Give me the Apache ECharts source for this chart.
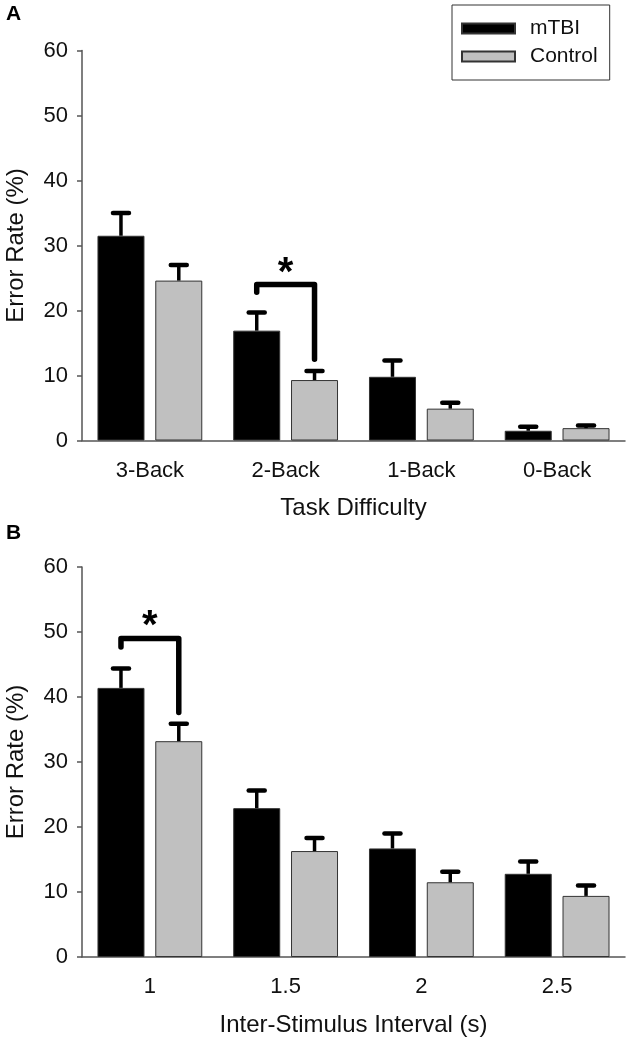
<!DOCTYPE html>
<html>
<head>
<meta charset="utf-8">
<script src="https://cdn.jsdelivr.net/npm/echarts@6/dist/echarts.min.js"></script>
<style>html,body{margin:0;padding:0;background:#fff;}#chart{width:630px;height:1046px;}</style>
</head>
<body>
<div id="chart"></div>
<script>
// ---------- data ----------
const seriesNames = ['mTBI', 'Control'];
const categoriesA = ['3-Back', '2-Back', '1-Back', '0-Back'];
const mtbiA = [31.5, 16.9, 9.8, 1.5];
const controlA = [24.6, 9.3, 4.9, 1.9];
const mtbiErrA = [3.5, 2.8, 2.5, 0.6];
const controlErrA = [2.4, 1.4, 0.9, 0.4];

const categoriesB = ['1', '1.5', '2', '2.5'];
const mtbiB = [41.4, 22.9, 16.7, 12.8];
const controlB = [33.2, 16.3, 11.5, 9.4];
const mtbiErrB = [3.0, 2.7, 2.3, 1.9];
const controlErrB = [2.7, 2.0, 1.6, 1.6];

const yMin = 0, yMax = 60, yStep = 10;
// significance brackets: [category, left end, top, right end, star level, label]
const sigA = ['2-Back', 22.8, 24.0, 12.5, 26.9, '*'];
const sigB = ['1', 47.7, 49.0, 37.6, 52.0, '*'];

const xTitleA = 'Task Difficulty';
const xTitleB = 'Inter-Stimulus Interval (s)';
const yTitle = 'Error Rate (%)';

// ---------- style ----------
const FONT = 'Liberation Sans, Arial, sans-serif';
const BAR_W = 47;
const BAR_GAP = 0.23;
const OFF = (BAR_W + BAR_W * BAR_GAP) / 2;
const AXIS_COLOR = '#555';
const TICK_FS = 22;
const NAME_FS = 24;

const chart = echarts.init(document.getElementById('chart'), null, {renderer: 'canvas'});

function errRender(sign) {
  return function (params, api) {
    const c = api.value(0);
    const top = api.coord([c, api.value(1)]);
    const end = api.coord([c, api.value(1) + api.value(2)]);
    const x = top[0] + sign * OFF;
    return {
      type: 'group',
      children: [
        {type: 'line', shape: {x1: x, y1: top[1], x2: x, y2: end[1] + 1},
         style: {stroke: '#000', lineWidth: 3.5}},
        {type: 'line', shape: {x1: x - 8, y1: end[1], x2: x + 8, y2: end[1]},
         style: {stroke: '#000', lineWidth: 4.5, lineCap: 'round'}}
      ]
    };
  };
}

function makeSigRender(label) {
  return function (params, api) {
    const c = api.value(0);
    const pl = api.coord([c, api.value(1)]);
    const pt = api.coord([c, api.value(2)]);
    const pr = api.coord([c, api.value(3)]);
    const ps = api.coord([c, api.value(4)]);
    const xl = pl[0] - OFF, xr = pl[0] + OFF;
    return {
      type: 'group',
      children: [
        {type: 'polyline', shape: {points: [[xl, pl[1]], [xl, pt[1]], [xr, pt[1]], [xr, pr[1]]]},
         style: {stroke: '#000', lineWidth: 5.5, lineCap: 'round', lineJoin: 'round', fill: null}},
        {type: 'text', x: (xl + xr) / 2, y: ps[1] + 8,
         style: {text: label, font: 'bold 40px ' + FONT, fill: '#000',
                 align: 'center', verticalAlign: 'middle'}}
      ]
    };
  };
}

function barSeries(name, data, idx, color) {
  return {
    name: name, type: 'bar', xAxisIndex: idx, yAxisIndex: idx,
    data: data, barWidth: BAR_W, barGap: (BAR_GAP * 100) + '%',
    itemStyle: {color: color, borderColor: '#333', borderWidth: 1},
    emphasis: {disabled: true}, animation: false, z: 2
  };
}

function errSeries(vals, errs, idx, sign) {
  return {
    type: 'custom', xAxisIndex: idx, yAxisIndex: idx,
    data: vals.map((v, i) => [i, v, errs[i]]),
    encode: {x: 0, y: [1, 2]},
    renderItem: errRender(sign), z: 3, clip: false, animation: false, silent: true
  };
}

function sigSeries(sig, cats, idx) {
  return {
    type: 'custom', xAxisIndex: idx, yAxisIndex: idx,
    data: [[cats.indexOf(sig[0]), sig[1], sig[2], sig[3], sig[4]]],
    encode: {x: 0, y: [1, 2, 3, 4]},
    renderItem: makeSigRender(sig[5]), z: 4, clip: false, animation: false, silent: true
  };
}

function xAxis(cats, idx, title) {
  return {
    type: 'category', gridIndex: idx, data: cats,
    axisLine: {lineStyle: {color: AXIS_COLOR, width: 1.5}},
    axisTick: {alignWithLabel: true, length: 6, lineStyle: {color: AXIS_COLOR, width: 1.5}},
    axisLabel: {color: '#111', fontSize: TICK_FS, fontFamily: FONT, margin: 19},
    name: title, nameLocation: 'middle', nameGap: 56,
    nameTextStyle: {color: '#111', fontSize: NAME_FS, fontFamily: FONT}
  };
}

function yAxis(idx) {
  return {
    type: 'value', gridIndex: idx, min: yMin, max: yMax, interval: yStep,
    splitLine: {show: false},
    axisLine: {show: true, lineStyle: {color: AXIS_COLOR, width: 1.5}},
    axisTick: {show: true, length: 5, lineStyle: {color: AXIS_COLOR, width: 1.5}},
    axisLabel: {color: '#111', fontSize: TICK_FS, fontFamily: FONT, margin: 14},
    name: yTitle, nameLocation: 'middle', nameGap: 54,
    nameTextStyle: {color: '#111', fontSize: NAME_FS, fontFamily: FONT}
  };
}

const option = {
  backgroundColor: '#fff',
  animation: false,
  textStyle: {fontFamily: FONT},
  grid: [
    {left: 82, top: 50.5, width: 543, height: 390, containLabel: false, outerBoundsMode: 'none'},
    {left: 82, top: 567, width: 543, height: 390, containLabel: false, outerBoundsMode: 'none'}
  ],
  title: [
    {text: 'A', left: 6, top: 4, padding: 0, textStyle: {fontSize: 21, fontWeight: 'bold', color: '#000', fontFamily: FONT}},
    {text: 'B', left: 6, top: 523, padding: 0, textStyle: {fontSize: 21, fontWeight: 'bold', color: '#000', fontFamily: FONT}}
  ],
  legend: {
    data: seriesNames, orient: 'vertical', left: 452, top: 5,
    icon: 'rect', itemWidth: 53, itemHeight: 10, itemGap: 7,
    padding: [13, 12, 13, 9], borderColor: '#333', borderWidth: 1,
    textStyle: {fontSize: 21, color: '#111', fontFamily: FONT, padding: [0, 0, 0, 10]},
    selectedMode: false
  },
  xAxis: [xAxis(categoriesA, 0, xTitleA), xAxis(categoriesB, 1, xTitleB)],
  yAxis: [yAxis(0), yAxis(1)],
  series: [
    barSeries(seriesNames[0], mtbiA, 0, '#000'),
    barSeries(seriesNames[1], controlA, 0, '#c0c0c0'),
    barSeries(seriesNames[0], mtbiB, 1, '#000'),
    barSeries(seriesNames[1], controlB, 1, '#c0c0c0'),
    errSeries(mtbiA, mtbiErrA, 0, -1),
    errSeries(controlA, controlErrA, 0, 1),
    errSeries(mtbiB, mtbiErrB, 1, -1),
    errSeries(controlB, controlErrB, 1, 1),
    sigSeries(sigA, categoriesA, 0),
    sigSeries(sigB, categoriesB, 1)
  ]
};
chart.setOption(option);
</script>
</body>
</html>
